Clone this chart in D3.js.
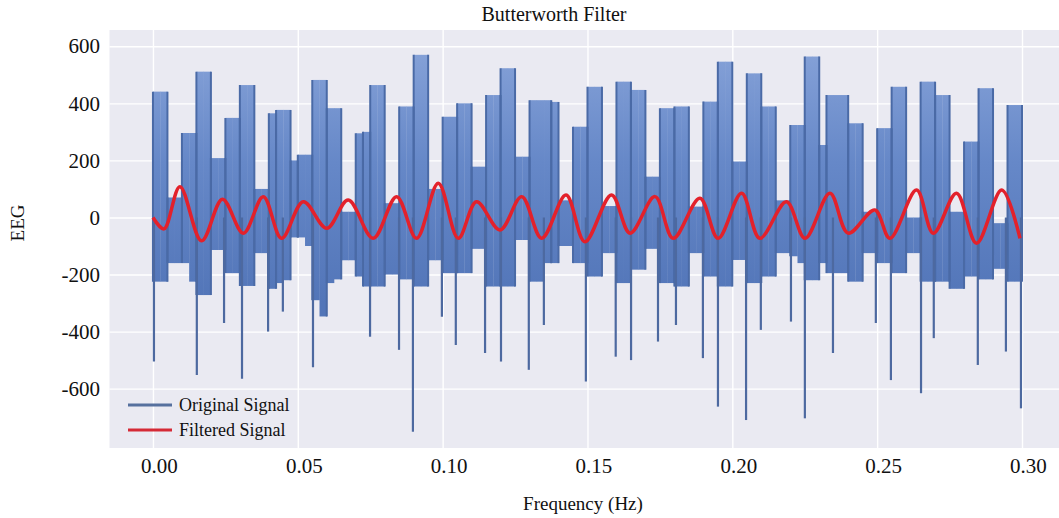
<!DOCTYPE html>
<html>
<head>
<meta charset="utf-8">
<script src="https://cdn.jsdelivr.net/npm/d3@7"></script>
<style>
  body { margin: 0; background: #fff; }
  svg { display: block; font-family: "Liberation Serif", "Times New Roman", serif; }
</style>
</head>
<body>
<svg id="chart" width="1059" height="518"></svg>
<script>
// original signal, read as columns of 0.0025 s: upper and lower edge of each band
const SAMPLE_STEP = 0.0025;
const originalHi = [
  441, 441, 70, 70, 296, 296, 511, 511, 208, 208,
  349, 349, 464, 464, 100, 100, 365, 377, 377, 200,
  220, 220, 482, 482, 383, 383, 20, 20, 295, 300,
  464, 464, 50, 50, 389, 389, 570, 570, 100, 100,
  353, 353, 400, 400, 178, 178, 429, 429, 523, 523,
  213, 213, 411, 411, 411, 405, 60, 60, 318, 318,
  458, 458, 40, 40, 476, 476, 447, 447, 143, 143,
  383, 383, 389, 389, 38, 38, 406, 406, 546, 546,
  196, 196, 505, 505, 389, 389, 60, 60, 324, 324,
  564, 564, 254, 429, 429, 429, 330, 330, 20, 20,
  313, 313, 458, 458, 0, 0, 476, 476, 429, 429,
  20, 20, 266, 266, 453, 453, -20, -20, 394, 394
];
const originalLo = [
  -225, -225, -160, -160, -160, -225, -272, -272, -114, -114,
  -195, -195, -240, -240, -125, -125, -250, -230, -220, -70,
  -70, -100, -290, -347, -230, -217, -150, -150, -207, -242,
  -242, -242, -200, -200, -217, -217, -242, -242, -150, -150,
  -195, -195, -195, -195, -110, -110, -242, -242, -242, -242,
  -79, -79, -225, -225, -160, -160, -100, -100, -160, -160,
  -207, -207, -125, -125, -230, -230, -183, -183, -110, -110,
  -230, -230, -242, -242, -125, -125, -207, -207, -242, -242,
  -149, -149, -230, -230, -207, -207, -125, -125, -136, -160,
  -220, -220, -160, -195, -195, -195, -225, -225, -125, -125,
  -160, -160, -195, -195, -125, -125, -225, -225, -225, -225,
  -250, -250, -207, -207, -217, -217, -180, -180, -225, -225
];
// single deep samples that reach below the bands
const spikeTime = [
  0.0000, 0.0148, 0.0242, 0.0304, 0.0394, 0.0445, 0.0549, 0.0746, 0.0846, 0.0894,
  0.0994, 0.1042, 0.1143, 0.1198, 0.1294, 0.1346, 0.1491, 0.1594, 0.1647, 0.1740,
  0.1802, 0.1895, 0.1947, 0.2044, 0.2095, 0.2199, 0.2247, 0.2344, 0.2492, 0.2544,
  0.2648, 0.2692, 0.2844, 0.2941, 0.2993
];
const spikeValue = [
  -505, -552, -370, -565, -400, -330, -525, -418, -464, -751,
  -348, -447, -475, -505, -534, -377, -575, -488, -500, -435,
  -377, -493, -663, -710, -394, -365, -704, -475, -370, -570,
  -616, -423, -517, -470, -669
];
// filtered signal, peaks and troughs
const filteredTime = [
  0.0000, 0.0038, 0.0093, 0.0168, 0.0240, 0.0312, 0.0381, 0.0444, 0.0519, 0.0600,
  0.0674, 0.0760, 0.0841, 0.0910, 0.0985, 0.1054, 0.1117, 0.1198, 0.1273, 0.1342,
  0.1426, 0.1491, 0.1583, 0.1647, 0.1733, 0.1796, 0.1888, 0.1951, 0.2032, 0.2095,
  0.2187, 0.2251, 0.2337, 0.2400, 0.2492, 0.2544, 0.2636, 0.2694, 0.2774, 0.2843,
  0.2930, 0.2993
];
const filteredValue = [
  0, -40, 108, -82, 64, -55, 73, -73, 55, -38,
  61, -73, 73, -73, 120, -73, 55, -44, 73, -73,
  79, -85, 79, -55, 73, -73, 67, -73, 85, -73,
  55, -73, 85, -55, 26, -73, 96, -55, 85, -90,
  96, -73
];
const xTicks = [0, 0.05, 0.10, 0.15, 0.20, 0.25, 0.30];
const yTicks = [-600, -400, -200, 0, 200, 400, 600];
const legendLabels = ["Original Signal", "Filtered Signal"];

const plot = { left: 109.5, right: 1064, top: 30, bottom: 448 };
const svg = d3.select("#chart");

const x = d3.scaleLinear().domain([-0.015, 0.3145]).range([plot.left, plot.right]);
const y = d3.scaleLinear().domain([-808, 657]).range([plot.bottom, plot.top]);

const defs = svg.append("defs");
defs.append("clipPath").attr("id", "clip")
  .append("rect")
  .attr("x", plot.left).attr("y", plot.top)
  .attr("width", plot.right - plot.left).attr("height", plot.bottom - plot.top);

// bands look lighter toward their tops in the original
const grad = defs.append("linearGradient")
  .attr("id", "bandFill")
  .attr("gradientUnits", "userSpaceOnUse")
  .attr("x1", 0).attr("x2", 0)
  .attr("y1", y(600)).attr("y2", y(-300));
grad.append("stop").attr("offset", "0%").attr("stop-color", "#86a2d8");
grad.append("stop").attr("offset", "45%").attr("stop-color", "#6688c8");
grad.append("stop").attr("offset", "100%").attr("stop-color", "#5275b8");

// background
svg.append("rect")
  .attr("x", plot.left).attr("y", plot.top)
  .attr("width", plot.right - plot.left).attr("height", plot.bottom - plot.top)
  .attr("fill", "#eaeaf2");

// grid
svg.append("g")
  .attr("transform", `translate(0,${plot.bottom})`)
  .call(d3.axisBottom(x).tickValues(xTicks).tickSize(-(plot.bottom - plot.top)).tickFormat(""))
  .call(g => g.select(".domain").remove())
  .call(g => g.selectAll("line").attr("stroke", "#fff").attr("stroke-width", 1.4));
svg.append("g")
  .attr("transform", `translate(${plot.left},0)`)
  .call(d3.axisLeft(y).tickValues(yTicks).tickSize(-(plot.right - plot.left)).tickFormat(""))
  .call(g => g.select(".domain").remove())
  .call(g => g.selectAll("line").attr("stroke", "#fff").attr("stroke-width", 1.4));

// tick labels
svg.append("g")
  .attr("transform", `translate(0,${plot.bottom})`)
  .call(d3.axisBottom(x).tickValues(xTicks).tickSize(0).tickPadding(10).tickFormat(d3.format(".2f")))
  .call(g => g.select(".domain").remove())
  .call(g => g.selectAll("text").attr("dx", 6).attr("fill", "#111")
    .style("font-size", "21px").style("font-family", "Liberation Serif, serif"));
svg.append("g")
  .attr("transform", `translate(${plot.left},0)`)
  .call(d3.axisLeft(y).tickValues(yTicks).tickSize(0).tickPadding(9.5)
    .tickFormat(d => String(d)))
  .call(g => g.select(".domain").remove())
  .call(g => g.selectAll("text").attr("fill", "#111")
    .style("font-size", "21px").style("font-family", "Liberation Serif, serif"));

const area = svg.append("g").attr("clip-path", "url(#clip)");

// original signal bands
const cols = originalHi.map((hi, i) => ({ t: i * SAMPLE_STEP, hi: hi, lo: originalLo[i] }));
area.append("g").selectAll("rect")
  .data(cols)
  .join("rect")
  .attr("x", d => x(d.t))
  .attr("width", x(SAMPLE_STEP) - x(0) + 0.3)
  .attr("y", d => y(d.hi))
  .attr("height", d => y(d.lo) - y(d.hi))
  .attr("fill", "url(#bandFill)");

// darker edges where the band level changes
const edges = [];
cols.forEach((d, i) => {
  if (i === 0 || cols[i - 1].hi !== d.hi) edges.push({ t: d.t, hi: d.hi, lo: d.lo });
  if (i === cols.length - 1 || cols[i + 1].hi !== d.hi) edges.push({ t: d.t + SAMPLE_STEP, hi: d.hi, lo: d.lo });
});
area.append("g").selectAll("line")
  .data(edges)
  .join("line")
  .attr("x1", d => x(d.t)).attr("x2", d => x(d.t))
  .attr("y1", d => y(d.hi)).attr("y2", d => y(d.lo))
  .attr("stroke", "#4a6aa6")
  .attr("stroke-width", 2);

area.append("g").selectAll("line")
  .data(spikeTime.map((t, i) => ({ t: t, v: spikeValue[i] })))
  .join("line")
  .attr("x1", d => x(d.t) + 1).attr("x2", d => x(d.t) + 1)
  .attr("y1", y(0)).attr("y2", d => y(d.v))
  .attr("stroke", "#4d69a0")
  .attr("stroke-width", 2.2);

// filtered signal
const line = d3.line()
  .x(d => x(d[0]))
  .y(d => y(d[1]))
  .curve(d3.curveCatmullRom.alpha(0.5));
area.append("path")
  .datum(filteredTime.map((t, i) => [t, filteredValue[i]]))
  .attr("d", line)
  .attr("fill", "none")
  .attr("stroke", "#e3212b")
  .attr("stroke-width", 3.5)
  .attr("stroke-linejoin", "round");

// legend
const legendColors = ["#56709e", "#d52a36"];
const legend = svg.append("g").selectAll("g")
  .data(legendLabels)
  .join("g")
  .attr("transform", (d, i) => `translate(128,${405 + i * 25})`);
legend.append("line")
  .attr("x1", 0).attr("x2", 44)
  .attr("stroke", (d, i) => legendColors[i])
  .attr("stroke-width", 3);
legend.append("text")
  .attr("x", 51).attr("dy", "0.32em")
  .attr("fill", "#111")
  .style("font-size", "18px")
  .text(d => d);

// titles
svg.append("text")
  .attr("x", 554).attr("y", 21)
  .attr("text-anchor", "middle")
  .attr("fill", "#111")
  .style("font-size", "20px")
  .text("Butterworth Filter");
svg.append("text")
  .attr("x", 583).attr("y", 510)
  .attr("text-anchor", "middle")
  .attr("fill", "#111")
  .style("font-size", "19px")
  .text("Frequency (Hz)");
svg.append("text")
  .attr("transform", "translate(17,223) rotate(-90)")
  .attr("text-anchor", "middle")
  .attr("dy", "0.35em")
  .attr("fill", "#111")
  .style("font-size", "19px")
  .text("EEG");
</script>
</body>
</html>
